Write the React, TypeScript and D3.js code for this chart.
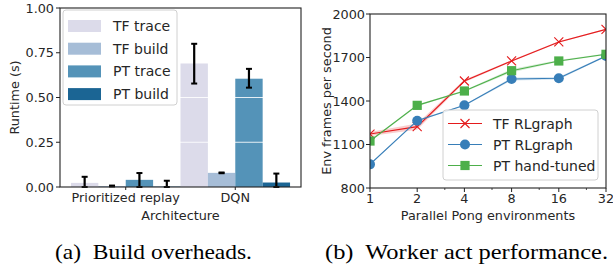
import React from "react";
import * as d3 from "d3";

// left panel: build overheads
const groups = ["Prioritized replay", "DQN"];
const barSeries = ["TF trace", "TF build", "PT trace", "PT build"];
const barColors = ["#dcdbea", "#a6bdd7", "#5493b8", "#1b6594"];
const runtime = [
  [0.023, 0.69],
  [0.005, 0.079],
  [0.04, 0.605],
  [0.002, 0.025],
];
const runtimeLow = [
  [0.0, 0.578],
  [0.003, 0.077],
  [0.0, 0.555],
  [0.0, 0.0],
];
const runtimeHigh = [
  [0.057, 0.8],
  [0.008, 0.081],
  [0.078, 0.66],
  [0.035, 0.075],
];
const runtimeTicks = [0, 0.25, 0.5, 0.75, 1];

// right panel: worker act performance
const envs = [1, 2, 4, 8, 16, 32];
const minorEnvs = [3, 6, 12, 24];
const lineSeries = ["TF RLgraph", "PT RLgraph", "PT hand-tuned"];
const lineColors = ["#e41a1c", "#377eb8", "#4daf4a"];
const markers = ["x", "circle", "square"];
const fps = [
  [1172, 1223, 1538, 1676, 1807, 1894],
  [963, 1264, 1370, 1552, 1557, 1710],
  [1124, 1370, 1469, 1609, 1676, 1722],
];
const fpsSpread = [
  [14, 22, 8, 6, 5, 5],
  [4, 6, 4, 10, 8, 5],
  [5, 6, 6, 12, 6, 5],
];
const fpsTicks = [800, 1100, 1400, 1700, 2000];

const FONT = "DejaVu Sans, sans-serif";
const TEXT = "#262626";

const Marker = ({ kind, x, y, color }) => {
  if (kind === "x") {
    const s = 4.5;
    return (
      <path
        d={`M${x - s},${y - s}L${x + s},${y + s}M${x - s},${y + s}L${x + s},${y - s}`}
        stroke={color}
        strokeWidth={1.1}
      />
    );
  }
  if (kind === "circle") return <circle cx={x} cy={y} r={5} fill={color} />;
  return <rect x={x - 4.6} y={y - 4.6} width={9.2} height={9.2} fill={color} />;
};

const BarPanel = () => {
  const left = 60, right = 301, top = 8, bottom = 187;
  const x0 = d3.scaleBand().domain(groups).range([left, right]).paddingInner(0).paddingOuter(0.1);
  const x1 = d3.scaleBand().domain(barSeries).range([0, x0.bandwidth()]);
  const y = d3.scaleLinear().domain([0, 1]).range([bottom, top]);

  return (
    <g fontFamily={FONT} fill={TEXT}>
      <rect x={left} y={top} width={right - left} height={bottom - top} fill="#fff" />
      {barSeries.map((s, i) =>
        groups.map((g, j) => (
          <rect
            key={s + g}
            x={x0(g) + x1(s)}
            y={y(runtime[i][j])}
            width={x1.bandwidth()}
            height={bottom - y(runtime[i][j])}
            fill={barColors[i]}
          />
        ))
      )}
      {runtimeTicks.slice(1, 4).map((t) => (
        <line key={t} x1={left} x2={right} y1={y(t)} y2={y(t)} stroke="#fff" strokeOpacity={0.85} strokeWidth={1} />
      ))}
      {barSeries.map((s, i) =>
        groups.map((g, j) => {
          const cx = x0(g) + x1(s) + x1.bandwidth() / 2;
          const lo = y(runtimeLow[i][j]);
          const hi = y(runtimeHigh[i][j]);
          return (
            <g key={"e" + s + g} stroke="#000" strokeWidth={2}>
              <line x1={cx} x2={cx} y1={lo} y2={hi} strokeWidth={2.2} />
              <line x1={cx - 3} x2={cx + 3} y1={hi} y2={hi} />
              <line x1={cx - 3} x2={cx + 3} y1={lo} y2={lo} />
            </g>
          );
        })
      )}
      <rect x={left} y={top} width={right - left} height={bottom - top} fill="none" stroke="#222" strokeWidth={1.1} />
      {runtimeTicks.map((t) => (
        <g key={t}>
          <line x1={left - 4} x2={left} y1={y(t)} y2={y(t)} stroke="#222" />
          <text x={left - 6} y={y(t)} dy="0.36em" textAnchor="end" fontSize={12.8}>
            {d3.format(".2f")(t)}
          </text>
        </g>
      ))}
      {groups.map((g) => (
        <g key={g}>
          <line x1={x0(g) + x0.bandwidth() / 2} x2={x0(g) + x0.bandwidth() / 2} y1={bottom} y2={bottom + 3} stroke="#222" />
          <text x={x0(g) + x0.bandwidth() / 2} y={202} textAnchor="middle" fontSize={12.8}>
            {g}
          </text>
        </g>
      ))}
      <text x={(left + right) / 2} y={220} textAnchor="middle" fontSize={12.8}>
        Architecture
      </text>
      <text transform={`translate(19,${(top + bottom) / 2}) rotate(-90)`} textAnchor="middle" fontSize={12.8}>
        Runtime (s)
      </text>
      <rect x={63} y={10} width={114} height={95} rx={3} fill="#fff" fillOpacity={0.85} stroke="#d0d0d0" strokeWidth={1} />
      {barSeries.map((s, i) => (
        <g key={"l" + s}>
          <rect x={68} y={20 + i * 22.7} width={33} height={12} fill={barColors[i]} />
          <text x={113} y={26 + i * 22.7} dy="0.36em" fontSize={14}>
            {s}
          </text>
        </g>
      ))}
    </g>
  );
};

const LinePanel = () => {
  const left = 370, right = 606, top = 14, bottom = 188;
  const x = d3.scaleLog().base(2).domain([1, 32]).range([left, right]);
  const y = d3.scaleLinear().domain([800, 2000]).range([bottom, top]);
  const line = d3.line<number>().x((_, k) => x(envs[k])).y((v) => y(v));
  const band = d3
    .area<number>()
    .x((_, k) => x(envs[k]));

  return (
    <g fontFamily={FONT} fill={TEXT}>
      <defs>
        <clipPath id="plotclip">
          <rect x={left} y={top} width={right - left} height={bottom - top} />
        </clipPath>
      </defs>
      <rect x={left} y={top} width={right - left} height={bottom - top} fill="#fff" />
      <g clipPath="url(#plotclip)">
        {lineSeries.map((s, i) => (
          <path
            key={"b" + s}
            d={band.y0((v, k) => y(v - fpsSpread[i][k])).y1((v, k) => y(v + fpsSpread[i][k]))(fps[i])}
            fill={lineColors[i]}
            fillOpacity={0.22}
          />
        ))}
        {lineSeries.map((s, i) => (
          <g key={s}>
            <path d={line(fps[i])} fill="none" stroke={lineColors[i]} strokeWidth={1.1} />
            {fps[i].map((v, k) => (
              <Marker key={k} kind={markers[i]} x={x(envs[k])} y={y(v)} color={lineColors[i]} />
            ))}
          </g>
        ))}
      </g>
      <rect x={left} y={top} width={right - left} height={bottom - top} fill="none" stroke="#222" strokeWidth={1.1} />
      {fpsTicks.map((t) => (
        <g key={t}>
          <line x1={left - 4} x2={left} y1={y(t)} y2={y(t)} stroke="#222" />
          <text x={left - 5} y={y(t)} dy="0.36em" textAnchor="end" fontSize={12.8}>
            {t}
          </text>
        </g>
      ))}
      {envs.map((t) => (
        <g key={t}>
          <line x1={x(t)} x2={x(t)} y1={bottom} y2={bottom + 4} stroke="#222" />
          <text x={x(t)} y={203} textAnchor="middle" fontSize={12.8}>
            {t}
          </text>
        </g>
      ))}
      {minorEnvs.map((t) => (
        <line key={t} x1={x(t)} x2={x(t)} y1={bottom} y2={bottom + 2} stroke="#222" strokeWidth={0.8} />
      ))}
      <text x={(left + right) / 2} y={220} textAnchor="middle" fontSize={12.8}>
        Parallel Pong environments
      </text>
      <text transform={`translate(331,${(top + bottom) / 2}) rotate(-90)`} textAnchor="middle" fontSize={12.8}>
        Env frames per second
      </text>
      <rect x={443} y={110} width={155} height={70} rx={3} fill="#fff" fillOpacity={0.85} stroke="#d0d0d0" strokeWidth={1} />
      {lineSeries.map((s, i) => (
        <g key={"l" + s}>
          <line x1={448} x2={482} y1={123.5 + i * 21} y2={123.5 + i * 21} stroke={lineColors[i]} strokeWidth={1.1} />
          <Marker kind={markers[i]} x={465} y={123.5 + i * 21} color={lineColors[i]} />
          <text x={493} y={123.5 + i * 21} dy="0.36em" fontSize={14}>
            {s}
          </text>
        </g>
      ))}
    </g>
  );
};

export default function App() {
  return (
    <svg width={613} height={268} style={{ position: "absolute", left: 0, top: 0, background: "#fff" }}>
      <BarPanel />
      <LinePanel />
      <g fontFamily="Liberation Serif, Times New Roman, serif" fontSize={21} fill="#000">
        <text x={55} y={259} textLength={197} lengthAdjust="spacingAndGlyphs" xmlSpace="preserve">
          (a)  Build overheads.
        </text>
        <text x={325} y={259} textLength={283} lengthAdjust="spacingAndGlyphs" xmlSpace="preserve">
          (b)  Worker act performance.
        </text>
      </g>
    </svg>
  );
}
